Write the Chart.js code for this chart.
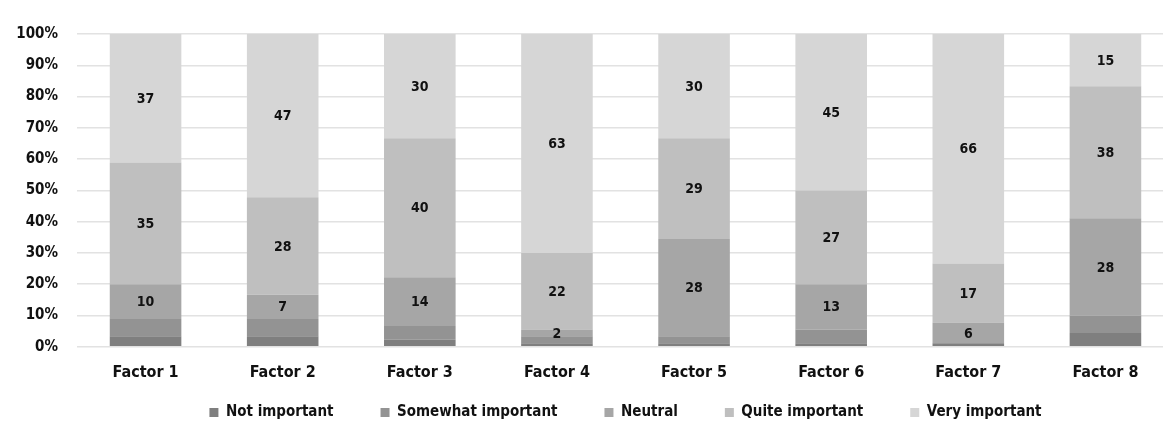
<!DOCTYPE html>
<html>
<head>
<meta charset="utf-8">
<script src="https://cdn.jsdelivr.net/npm/chart.js@4"></script>
<style>
  html, body { margin: 0; padding: 0; background: #ffffff; overflow: hidden; }
  #wrap { position: relative; width: 1175px; height: 454px; }
</style>
</head>
<body>
<div id="wrap"><canvas id="chart"></canvas></div>
<script>
// Survey responses per factor (counts of respondents)
const categories = ['Factor 1', 'Factor 2', 'Factor 3', 'Factor 4', 'Factor 5', 'Factor 6', 'Factor 7', 'Factor 8'];
const notImportant = [3, 3, 2, 1, 1, 1, 1, 4];
const somewhatImportant = [5, 5, 4, 2, 2, 4, 0, 5];
const neutral = [10, 7, 14, 2, 28, 13, 6, 28];
const quiteImportant = [35, 28, 40, 22, 29, 27, 17, 38];
const veryImportant = [37, 47, 30, 63, 30, 45, 66, 15];
const seriesNames = ['Not important', 'Somewhat important', 'Neutral', 'Quite important', 'Very important'];
const yTicks = [0, 10, 20, 30, 40, 50, 60, 70, 80, 90, 100];

const seriesCounts = [notImportant, somewhatImportant, neutral, quiteImportant, veryImportant];
const seriesColors = ['#7f7f7f', '#939393', '#a6a6a6', '#bfbfbf', '#d6d6d6'];
const labelledSeries = [2, 3, 4];

// totals per factor, used to turn counts into shares of 100%
const totals = categories.map((_, i) => seriesCounts.reduce((s, arr) => s + arr[i], 0));

const FONT = "'DejaVu Sans Condensed', 'Liberation Sans Narrow', 'DejaVu Sans', sans-serif";

const datasets = seriesCounts.map((counts, k) => ({
  label: seriesNames[k],
  data: counts.map((c, i) => c / totals[i] * 100),
  counts: counts,
  backgroundColor: seriesColors[k],
  borderWidth: 0,
  barPercentage: 0.522,
  categoryPercentage: 1.0
}));

// writes the respondent count in the middle of each labelled segment
const segmentLabels = {
  id: 'segmentLabels',
  afterDatasetsDraw(chart) {
    const ctx = chart.ctx;
    ctx.save();
    ctx.fillStyle = '#111111';
    ctx.font = 'bold 14px ' + FONT;
    ctx.textAlign = 'center';
    ctx.textBaseline = 'middle';
    labelledSeries.forEach(dsIndex => {
      const meta = chart.getDatasetMeta(dsIndex);
      const counts = chart.data.datasets[dsIndex].counts;
      meta.data.forEach((bar, i) => {
        if (!counts[i]) return;
        const p = bar.getProps(['x', 'y', 'base'], true);
        ctx.fillText(String(counts[i]), p.x, (p.y + p.base) / 2 + 1);
      });
    });
    ctx.restore();
  }
};

// the wide legend item spacing also pads the legend vertically; pull the row up under the axis labels
const legendLift = {
  id: 'legendLift',
  afterLayout(chart) {
    const lg = chart.legend;
    if (!lg) return;
    lg.top -= 24;
    lg.bottom -= 24;
  }
};

new Chart(document.getElementById('chart'), {
  type: 'bar',
  data: { labels: categories, datasets: datasets },
  plugins: [segmentLabels, legendLift],
  options: {
    responsive: true,
    maintainAspectRatio: false,
    animation: false,
    layout: { padding: { top: 34, right: 1, left: 0, bottom: 0 } },
    plugins: {
      tooltip: { enabled: false },
      legend: {
        position: 'bottom',
        fullSize: false,
        labels: {
          boxWidth: 9,
          boxHeight: 9,
          padding: 47,
          color: '#111111',
          font: { family: FONT, size: 15, weight: 'bold' }
        }
      }
    },
    scales: {
      x: {
        stacked: true,
        grid: { display: false, drawTicks: false },
        border: { display: false },
        ticks: {
          padding: 16,
          color: '#111111',
          font: { family: FONT, size: 16, weight: 'bold' }
        },
        afterFit(scale) { scale.height = 35.2; }
      },
      y: {
        stacked: true,
        min: 0,
        max: 100,
        afterBuildTicks(scale) { scale.ticks = yTicks.map(v => ({ value: v })); },
        grid: { color: '#e2e2e2', lineWidth: 1.5, drawTicks: false },
        border: { display: false },
        ticks: {
          padding: 19,
          color: '#111111',
          font: { family: FONT, size: 15, weight: 'bold' },
          callback: v => v + '%'
        },
        afterFit(scale) { scale.width = 77; }
      }
    }
  }
});
</script>
</body>
</html>
